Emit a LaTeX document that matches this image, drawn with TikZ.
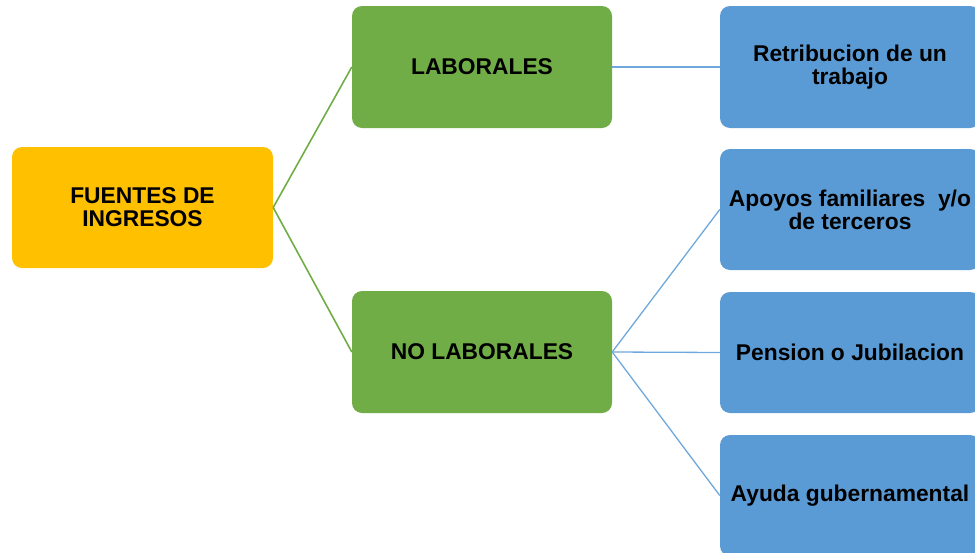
\documentclass[tikz,border=0pt]{standalone}
\usepackage{fontspec}
\setmainfont{Liberation Sans}
\definecolor{cyel}{HTML}{FFC000}
\definecolor{cgrn}{HTML}{70AD47}
\definecolor{cblu}{HTML}{5B9BD5}
\definecolor{cline}{HTML}{6FA8DC}
\begin{document}
\begin{tikzpicture}[x=1pt,y=-1pt,
  box/.style={rounded corners=10pt, inner sep=0pt, minimum width=260pt, minimum height=121pt,
    align=center, font=\fontsize{22.8}{23}\selectfont\bfseries, text=black},
  ybox/.style={box, fill=cyel},
  gbox/.style={box, fill=cgrn},
  bbox/.style={box, fill=cblu},
  gline/.style={draw=cgrn, line width=1.6pt},
  bline/.style={draw=cline, line width=1.3pt}]
\useasboundingbox (0,0) rectangle (975,552);
\node[ybox, minimum width=261pt] (fu) at (142.5,207.5) {FUENTES DE\\INGRESOS};
\node[gbox, minimum height=122pt] (lab) at (482,67) {LABORALES};
\node[gbox, minimum height=122pt] (nol) at (482,352) {NO LABORALES};
\node[bbox, minimum height=122pt] (r1) at (850,67) {Retribucion de un\\trabajo};
\node[bbox] (r2) at (850,209.5) {Apoyos familiares~ y/o\\de terceros};
\node[bbox] (r3) at (850,352.5) {Pension o Jubilacion};
\node[bbox] (r4) at (850,495.5) {Ayuda gubernamental};
\draw[gline] (fu.east) -- (lab.west);
\draw[gline] (fu.east) -- (nol.west);
\draw[bline] (lab.east) -- (r1.west);
\draw[bline] (nol.east) -- (r2.west);
\draw[bline] (nol.east) -- (r3.west);
\draw[bline] (nol.east) -- (r4.west);
\end{tikzpicture}
\end{document}
